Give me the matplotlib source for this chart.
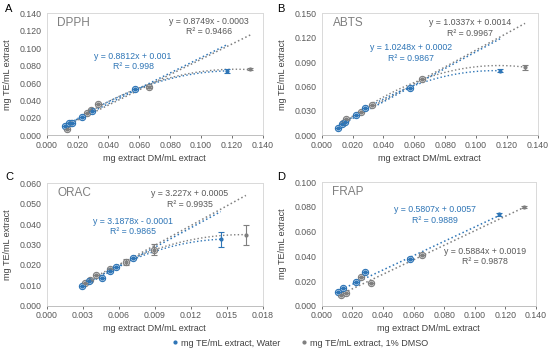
import numpy as np
import matplotlib.pyplot as plt

plt.rcParams['font.family'] = ['Liberation Sans', 'DejaVu Sans']

BLUE = "#2e75b6"
GRAY = "#7f7f7f"
TXT_GRAY = "#595959"

# ---- data ----
dpph_x_w = [0.0119, 0.0145, 0.0162, 0.0231, 0.0292, 0.0574, 0.1166]
dpph_y_w = [0.0107, 0.0138, 0.0145, 0.0214, 0.0283, 0.0528, 0.0738]
dpph_e_w = [0, 0, 0, 0, 0, 0, 0.0022]
dpph_x_d = [0.0134, 0.0156, 0.0263, 0.0285, 0.0330, 0.0661, 0.1320]
dpph_y_d = [0.0069, 0.0145, 0.0252, 0.0290, 0.0356, 0.0558, 0.0757]
dpph_e_d = [0, 0, 0, 0, 0, 0.0010, 0.0012]

abts_x_w = [0.0108, 0.0130, 0.0151, 0.0222, 0.0281, 0.0572, 0.1158]
abts_y_w = [0.0094, 0.0139, 0.0168, 0.0250, 0.0332, 0.0586, 0.0795]
abts_e_w = [0, 0, 0, 0, 0, 0, 0.0020]
abts_x_d = [0.0136, 0.0156, 0.0257, 0.0324, 0.0650, 0.1318]
abts_y_d = [0.0148, 0.0197, 0.0291, 0.0377, 0.0697, 0.0836]
abts_e_d = [0, 0, 0, 0, 0, 0.0030]

orac_x_w = [0.0029, 0.0035, 0.0046, 0.0053, 0.0058, 0.0072, 0.0145]
orac_y_w = [0.0095, 0.0120, 0.0136, 0.0172, 0.0188, 0.0235, 0.0325]
orac_e_w = [0, 0, 0, 0, 0, 0, 0.0035]
orac_x_d = [0.0032, 0.0036, 0.0041, 0.0053, 0.0066, 0.0089, 0.0166]
orac_y_d = [0.0110, 0.0125, 0.0150, 0.0178, 0.0215, 0.0275, 0.0348]
orac_e_d = [0, 0, 0, 0, 0.0015, 0.0026, 0.0048]

frap_x_w = [0.0105, 0.0137, 0.0222, 0.0283, 0.0577, 0.1158]
frap_y_w = [0.0108, 0.0140, 0.0195, 0.0276, 0.0378, 0.0740]
frap_e_w = [0, 0, 0, 0, 0, 0.0010]
frap_x_d = [0.0124, 0.0157, 0.0255, 0.0324, 0.0657, 0.1320]
frap_y_d = [0.0086, 0.0105, 0.0230, 0.0180, 0.0414, 0.0797]
frap_e_d = [0, 0, 0, 0, 0, 0.0008]

# linear trendline equations (slope, intercept, R2)
lin_w = {"A": (0.8812, 0.001, "0.998"), "B": (1.0248, 0.0002, "0.9867"),
         "C": (3.1878, -0.0001, "0.9865"), "D": (0.5807, 0.0057, "0.9889")}
lin_d = {"A": (0.8749, -0.0003, "0.9466"), "B": (1.0337, 0.0014, "0.9967"),
         "C": (3.227, 0.0005, "0.9935"), "D": (0.5884, 0.0019, "0.9878")}


def fmt_eq(m, b):
    sign = "+" if b >= 0 else "-"
    return f"y = {m:g}x {sign} {abs(b):g}"


def draw_series(ax, x, y, e, col, light, m, b, curve):
    x = np.array(x)
    y = np.array(y)
    xs = np.linspace(x.min(), x.max(), 50)
    ax.plot(xs, m * xs + b, ls=":", color=col, lw=1.1, zorder=2)
    if curve:
        c = np.polyfit(x, y, 2)
        ax.plot(xs, np.polyval(c, xs), ls=":", color=col, lw=1.0, zorder=2)
    ax.plot(x[:-1], y[:-1], "o", ms=4.5, mfc=light, mec=col, mew=0.8, zorder=3)
    ax.errorbar(x, y, yerr=e, fmt="o", ms=2, color=col, ecolor=col,
                elinewidth=0.8, capsize=2, capthick=0.8, zorder=4)


fig = plt.figure(figsize=(5.5, 3.53), dpi=100)

panels = [
    ("A", "DPPH", [46.7 / 550, 1 - 135.3 / 353, 216 / 550, 122 / 353], 0.140, 0.140, 0.020, 0.020,
     (dpph_x_w, dpph_y_w, dpph_e_w), (dpph_x_d, dpph_y_d, dpph_e_d), True,
     (0.056, 0.085), (0.105, 0.125)),
    ("B", "ABTS", [321.7 / 550, 1 - 135.3 / 353, 216 / 550, 122 / 353], 0.140, 0.150, 0.020, 0.030,
     (abts_x_w, abts_y_w, abts_e_w), (abts_x_d, abts_y_d, abts_e_d), True,
     (0.058, 0.101), (0.096, 0.132)),
    ("C", "ORAC", [46.7 / 550, 1 - 305.7 / 353, 216 / 550, 122.4 / 353], 0.018, 0.060, 0.003, 0.010,
     (orac_x_w, orac_y_w, orac_e_w), (orac_x_d, orac_y_d, orac_e_d), True,
     (0.0072, 0.0389), (0.0119, 0.0523)),
    ("D", "FRAP", [321.7 / 550, 1 - 305.7 / 353, 214.3 / 550, 123.4 / 353], 0.140, 0.100, 0.020, 0.020,
     (frap_x_w, frap_y_w, frap_e_w), (frap_x_d, frap_y_d, frap_e_d), False,
     (0.074, 0.0735), (0.1067, 0.040)),
]

for key, name, rect, xmax, ymax, xstep, ystep, sw, sd, curve, tw, td in panels:
    ax = fig.add_axes(rect)
    mw, bw, rw = lin_w[key]
    md, bd, rd = lin_d[key]
    draw_series(ax, *sd, GRAY, "#e8e8e8", md, bd, curve)
    draw_series(ax, *sw, BLUE, "#d6e6f5", mw, bw, curve)

    ax.set_xlim(0, xmax)
    ax.set_ylim(0, ymax)
    ax.set_xticks(np.arange(0, xmax + xstep / 2, xstep))
    ax.set_yticks(np.arange(0, ymax + ystep / 2, ystep))
    ax.xaxis.set_major_formatter(plt.FormatStrFormatter("%.3f"))
    ax.yaxis.set_major_formatter(plt.FormatStrFormatter("%.3f"))
    ax.tick_params(labelsize=6.3, colors="#595959", length=2, width=0.6, pad=2)
    ax.tick_params(axis="y", length=0, pad=4)
    for s in ax.spines.values():
        s.set_color("#d9d9d9")
        s.set_linewidth(0.7)
    ax.spines["bottom"].set_color("#bfbfbf")

    ax.set_xlabel("mg extract DM/mL extract", fontsize=6.5, color="#404040", labelpad=3)
    ax.set_ylabel("mg TE/mL extract", fontsize=6.5, color="#404040", labelpad=5)

    ax.text(0.05, 0.9, name, transform=ax.transAxes, fontsize=8.5, color=GRAY)
    ax.text(tw[0], tw[1], fmt_eq(mw, bw) + "\nR² = " + rw, fontsize=6.3, color=BLUE,
            ha="center", va="center", linespacing=1.2)
    ax.text(td[0], td[1], fmt_eq(md, bd) + "\nR² = " + rd, fontsize=6.3, color=TXT_GRAY,
            ha="center", va="center", linespacing=1.2)

    lx = 5 / 550 if key in "AC" else 277 / 550
    ly = 1 - (9 / 353 if key in "AB" else 177 / 353)
    fig.text(lx, ly, key, fontsize=8, color="black", ha="left", va="center")

h1, = plt.plot([], [], "o", ms=2, color=BLUE)
h2, = plt.plot([], [], "o", ms=2, color=GRAY)
fig.legend([h1, h2], ["mg TE/mL extract, Water", "mg TE/mL extract, 1% DMSO"],
           loc="center", bbox_to_anchor=(0.545, 1 - 343 / 353), ncol=2, frameon=False,
           fontsize=6.5, handlelength=0.8, handletextpad=0.3, columnspacing=2.2,
           labelcolor="#404040")

fig.savefig("out.png", dpi=100)
